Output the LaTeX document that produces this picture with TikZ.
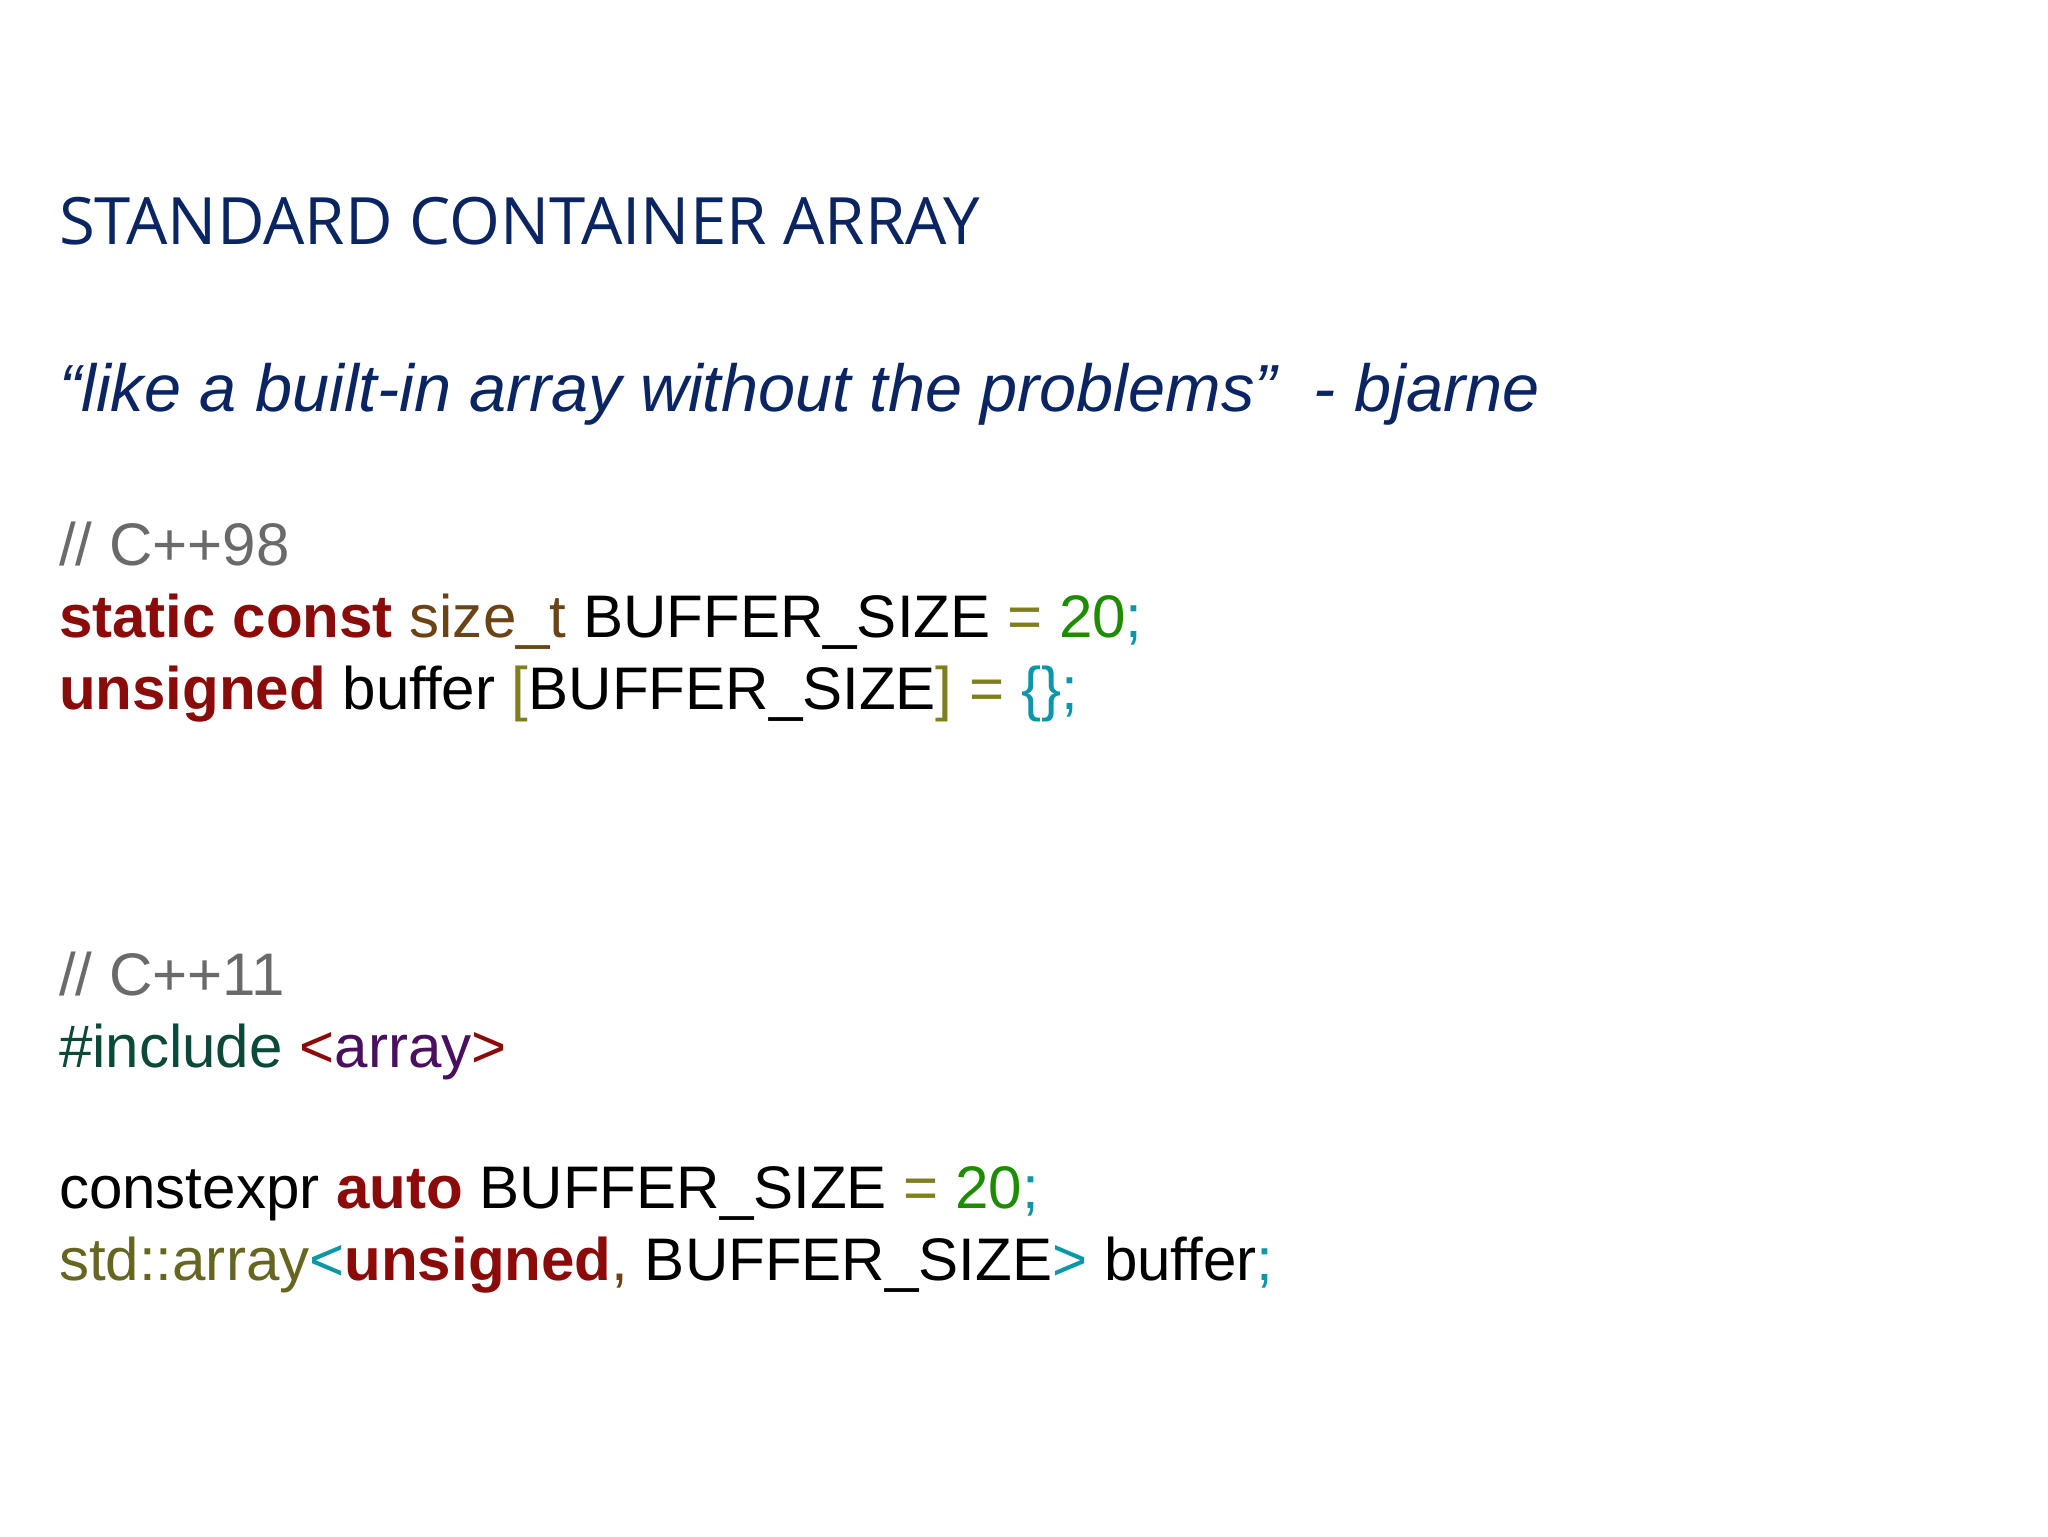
\documentclass[tikz,border=0pt]{standalone}
\usepackage{fontspec}
\setmainfont{Liberation Sans}
\newfontfamily\titlefont{Open Sans}
\definecolor{navy}{HTML}{0B2563}
\definecolor{cmt}{HTML}{6A6A6A}
\definecolor{kw}{HTML}{8B0A0A}
\definecolor{typ}{HTML}{6B4314}
\definecolor{ol}{HTML}{7F7F1E}
\definecolor{num}{HTML}{1E8C00}
\definecolor{teal}{HTML}{0A98A8}
\definecolor{inc}{HTML}{0B4A38}
\definecolor{purp}{HTML}{4A0F5E}
\definecolor{stdc}{HTML}{666620}
\tikzset{ln/.style={anchor=base west,inner sep=0pt,font=\fontsize{46}{50}\selectfont}}
\begin{document}
\begin{tikzpicture}[x=1pt,y=-1pt]
\useasboundingbox[fill=white] (0,0) rectangle (1568,1176);
\node[anchor=base west,inner sep=0pt,text=navy,font=\titlefont\fontsize{50}{54}\selectfont] (title) at (45,187) {STANDARD CONTAINER ARRAY};
\node[anchor=base west,inner sep=0pt,text=navy,font=\itshape\fontsize{51}{56}\selectfont] (quote) at (45,315) {“like a built-in array without the problems”\ \ - bjarne};
\node[ln,text=cmt] (c98) at (45,433) {// C++98};
\node[ln] (l1) at (45,488) {\textcolor{kw}{\bfseries static const} \textcolor{typ}{size\_t} BUFFER\_SIZE \textcolor{ol}{=} \textcolor{num}{20}\textcolor{teal}{;}};
\node[ln] (l2) at (45,543) {\textcolor{kw}{\bfseries unsigned} buffer \textcolor{ol}{[}BUFFER\_SIZE\textcolor{ol}{]} \textcolor{ol}{=} \textcolor{teal}{\{\};}};
\node[ln,text=cmt] (c11) at (45,762) {// C++11};
\node[ln] (l3) at (45,817) {\textcolor{inc}{\#include} \textcolor{kw}{<}\textcolor{purp}{array}\textcolor{kw}{>}};
\node[ln] (l4) at (45,925) {constexpr \textcolor{kw}{\bfseries auto} BUFFER\_SIZE \textcolor{ol}{=} \textcolor{num}{20}\textcolor{teal}{;}};
\node[ln] (l5) at (45,980) {\textcolor{stdc}{std::array}\textcolor{teal}{<}\textcolor{kw}{\bfseries unsigned}\textcolor{typ}{,} BUFFER\_SIZE\textcolor{teal}{>} buffer\textcolor{teal}{;}};
\end{tikzpicture}
\end{document}
